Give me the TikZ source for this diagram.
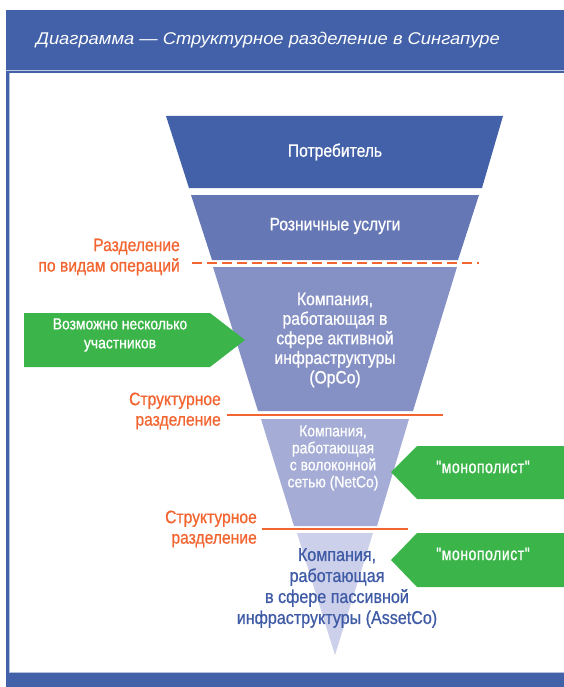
\documentclass[tikz,border=0pt]{standalone}
\usepackage{fontspec}
\setmainfont[FakeStretch=0.87,FakeBold=0.8]{Liberation Sans}
\newfontfamily\headfont[FakeStretch=1.08]{Liberation Sans}
\newfontfamily\spacedfont[FakeStretch=0.78,FakeBold=0.8,LetterSpace=3]{Liberation Sans}
\usetikzlibrary{positioning}

\definecolor{hdrblue}{HTML}{4361A8}
\definecolor{lvlone}{HTML}{4361A8}
\definecolor{lvltwo}{HTML}{6677B5}
\definecolor{lvlthree}{HTML}{8590C4}
\definecolor{lvlfour}{HTML}{A5ACD5}
\definecolor{lvlfive}{HTML}{CDD0EA}
\definecolor{assetblue}{HTML}{3F5BA6}
\definecolor{splitred}{HTML}{F26531}
\definecolor{markgreen}{HTML}{3BB54A}

\tikzset{
  leveltext/.style={text=white, align=center, inner sep=0pt,
    font=\fontsize{18}{19.6}\selectfont},
  smalltext/.style={text=white, align=center, inner sep=0pt,
    font=\fontsize{16}{17}\selectfont},
  assettext/.style={text=assetblue, align=center, inner sep=0pt,
    font=\fontsize{18.5}{21}\selectfont},
  splitlabel/.style={text=splitred, align=right, inner sep=0pt, anchor=east,
    font=\fontsize{18}{20.5}\selectfont},
  marktext/.style={text=white, align=center, inner sep=0pt,
    font=\fontsize{16}{19}\selectfont},
  monotext/.style={marktext, font=\spacedfont\fontsize{18}{20}\selectfont},
  splitline/.style={splitred, line width=2pt},
}

\begin{document}
\begin{tikzpicture}[x=1pt,y=-1pt]
  \useasboundingbox (0,0) rectangle (564,687);

  % header and frame
  \fill[hdrblue] (6,10) rectangle (564,73);
  \draw[white!65!hdrblue, line width=1pt] (6,71) -- (564,71);
  \fill[hdrblue] (6,73) rectangle (9,673);
  \draw[white!60!hdrblue, line width=1pt] (9.5,73) -- (9.5,672);
  \draw[white!60!hdrblue, line width=1pt] (9,672.5) -- (564,672.5);
  \fill[hdrblue] (6,673) rectangle (564,687);
  \node[text=white, inner sep=0pt, font=\headfont\itshape\fontsize{17}{19}\selectfont]
    (title) at (268,40) {Диаграмма — Структурное разделение в Сингапуре};

  % funnel levels
  \fill[lvlone] (166,116) -- (503,116) -- (482,188) -- (189,188) -- cycle; % consumer
  \fill[lvltwo] (191,195) -- (479,195) -- (458,260) -- (212,260) -- cycle; % retail
  \fill[lvlthree] (213,267) -- (457,267) -- (413,411) -- (258,411) -- cycle; % OpCo
  \fill[lvlfour] (261,419) -- (409,419) -- (377,526) -- (294,526) -- cycle; % NetCo
  \fill[lvlfive] (297,533) -- (373,533) -- (335,655) -- cycle; % AssetCo

  % level texts
  \node[leveltext] (consumer) at (335,152) {Потребитель};
  \node[leveltext] (retail) at (335,226) {Розничные услуги};
  \node[leveltext] (opco) at (335,340) {Компания,\\работающая в\\сфере активной\\инфраструктуры\\(OpCo)};
  \node[smalltext] (netco) at (333,458) {Компания,\\работающая\\с волоконной\\сетью (NetCo)};
  \node[assettext] (assetco) at (337,588) {Компания,\\работающая\\в сфере пассивной\\инфраструктуры (AssetCo)};

  % separation lines
  \draw[splitline, line width=1.6pt, dash pattern=on 10pt off 5pt] (192,263) -- (479,263);
  \draw[splitline] (227,415) -- (443,415);
  \draw[splitline] (262,529) -- (408,529);

  % separation labels
  \node[splitlabel] (opsplit) at (180,257) {Разделение\\по видам операций};
  \node[splitlabel] (structsplit) at (221,411) {Структурное\\разделение};
  \node[splitlabel] (netsplit) at (257,529) {Структурное\\разделение};

  % green markers
  \fill[markgreen] (24,313) -- (210,313) -- (245,340) -- (210,367) -- (24,367) -- cycle;
  \fill[markgreen] (564,446) -- (417,446) -- (391,472) -- (417,499) -- (564,499) -- cycle;
  \fill[markgreen] (564,533) -- (417,533) -- (391,560) -- (417,587) -- (564,587) -- cycle;
  \node[marktext] (many) at (120,335) {Возможно несколько\\участников};
  \node[monotext] (mononet) at (483,467) {"монополист"};
  \node[monotext] (monoasset) at (483,554) {"монополист"};
\end{tikzpicture}
\end{document}
